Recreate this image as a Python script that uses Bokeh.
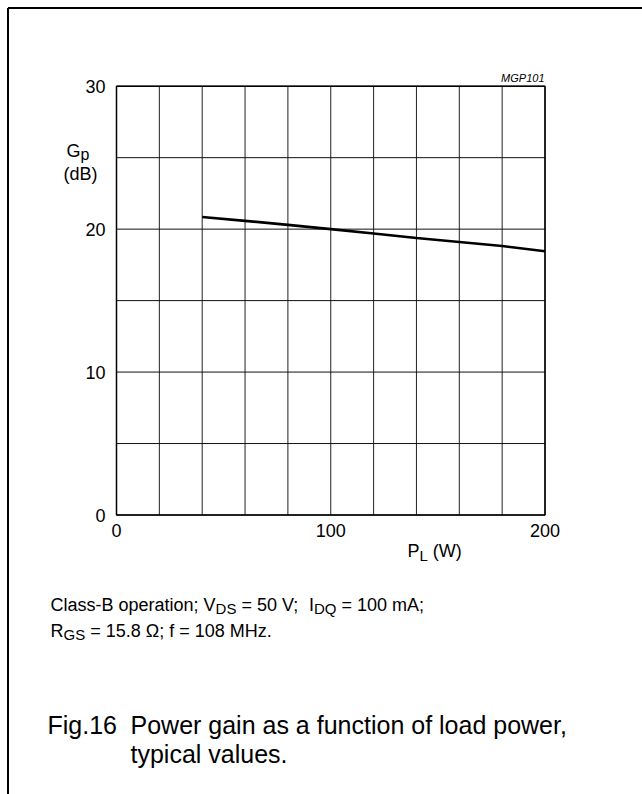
from bokeh.plotting import figure
from bokeh.models import Range1d, Label
from bokeh.embed import file_html
from bokeh.resources import INLINE

# ---- data ----
pl_w = [40, 60, 80, 100, 120, 140, 160, 180, 200]
gp_db = [20.85, 20.58, 20.3, 20.0, 19.7, 19.38, 19.1, 18.82, 18.45]
x_ticks = [0, 100, 200]
x_tick_labels = ["0", "100", "200"]
y_ticks = [0, 10, 20, 30]
y_tick_labels = ["0", "10", "20", "30"]
x_grid = [0, 20, 40, 60, 80, 100, 120, 140, 160, 180, 200]
y_grid = [0, 5, 10, 15, 20, 25, 30]

FONT = "Liberation Sans"

# ---- layout (canvas pixels) ----
FIG_W, FIG_H = 642, 794
CL, CR, CT, CB = 116.0, 544.5, 85.7, 514.5   # chart frame in pixels
XMIN, XMAX = x_grid[0], x_grid[-1]
YMIN, YMAX = y_grid[0], y_grid[-1]
KX = (CR - CL) / (XMAX - XMIN)
KY = (CB - CT) / (YMAX - YMIN)

p = figure(width=FIG_W, height=FIG_H,
           x_range=Range1d(XMIN - CL / KX, XMIN + (FIG_W - CL) / KX),
           y_range=Range1d(YMIN - (FIG_H - CB) / KY, YMIN + CB / KY),
           output_backend="svg", toolbar_location=None,
           x_axis_location=None, y_axis_location=None,
           min_border=0)
p.background_fill_color = "white"
p.border_fill_color = "white"
p.outline_line_color = None
p.grid.visible = False


def dx(px):
    return XMIN + (px - CL) / KX


def dy(py):
    return YMIN + (CB - py) / KY


# grid
p.segment(x0=x_grid, y0=[YMIN] * len(x_grid), x1=x_grid, y1=[YMAX] * len(x_grid),
          line_color="#222222", line_width=1)
p.segment(x0=[XMIN] * len(y_grid), y0=y_grid, x1=[XMAX] * len(y_grid), y1=y_grid,
          line_color="#111111", line_width=1)
# frame
p.quad(left=[XMIN], right=[XMAX], bottom=[YMIN], top=[YMAX], fill_color=None,
       line_color="black", line_width=1.5)

# curve
p.line(pl_w, gp_db, line_color="black", line_width=2.6)

# tick labels
p.text(x=x_ticks, y=[dy(CB + 9)] * len(x_ticks), text=x_tick_labels,
       text_font={"value": FONT}, text_font_size="18px", text_align="center",
       text_baseline="top", text_color="black")
p.text(x=[dx(CL - 11)] * len(y_ticks), y=y_ticks, text=y_tick_labels,
       text_font={"value": FONT}, text_font_size="18px", text_align="right",
       text_baseline="middle", text_color="black")

# page border (left and top edges)
p.segment(x0=[dx(7.5), dx(7.5)], y0=[dy(7.5), dy(7.5)], x1=[dx(7.5), dx(FIG_W + 5)],
          y1=[dy(FIG_H + 5), dy(7.5)], line_color="black", line_width=2)

W = {' ': 278, '(': 333, ')': 333, ',': 278, '-': 333, '.': 278, ';': 278, '=': 584,
     'A': 667, 'B': 667, 'C': 722, 'D': 722, 'F': 611, 'G': 778, 'H': 722, 'I': 278,
     'L': 556, 'M': 833, 'P': 667, 'Q': 778, 'R': 722, 'S': 667, 'V': 667, 'W': 944,
     'a': 556, 'b': 556, 'c': 500, 'd': 556, 'e': 556, 'f': 278, 'g': 556, 'h': 556,
     'i': 222, 'l': 222, 'm': 833, 'n': 556, 'o': 556, 'p': 556, 'r': 333, 's': 500,
     't': 278, 'u': 556, 'v': 500, 'w': 722, 'y': 500, 'z': 500, '\u03a9': 768}


def tw(s, size):
    return sum(W.get(c, 556) for c in s) / 1000.0 * size


def rich(parts, x_px, base_py, size, sub_size=None, sub_drop=4):
    sub_size = sub_size or round(size * 0.8)
    cur = x_px
    for txt, sub in parts:
        fs = sub_size if sub else size
        core = txt.strip(' ')
        lead = len(txt) - len(txt.lstrip(' '))
        trail = len(txt) - len(txt.rstrip(' '))
        cur += lead * 0.278 * fs
        if core:
            p.add_layout(Label(x=dx(cur), y=dy(base_py + (sub_drop if sub else 0)), text=core,
                               text_font=FONT, text_font_size=f"{fs}px", text_color="black",
                               text_align="left", text_baseline="alphabetic"))
        cur += tw(core, fs) + trail * 0.278 * fs


# figure code
p.add_layout(Label(x=dx(544), y=dy(77), text="MGP101", text_font=FONT, text_font_size="11px",
                   text_font_style="italic", text_align="right", text_baseline="alphabetic",
                   text_color="black"))

# axis titles
rich([("G", False), ("p", True)], 66, 150, 18, sub_size=16, sub_drop=4)
p.add_layout(Label(x=dx(80), y=dy(173), text="(dB)", text_font=FONT, text_font_size="18px",
                   text_align="center", text_baseline="alphabetic", text_color="black"))
rich([("P", False), ("L", True), (" (W)", False)], 407, 550, 18, sub_size=15, sub_drop=5)

# conditions
rich([("Class-B operation; V", False), ("DS", True), (" = 50 V;", False), ("  I", False),
      ("DQ", True), (" = 100 mA;", False)], 50, 604, 18, sub_size=15, sub_drop=4)
rich([("R", False), ("GS", True), (" = 15.8 \u03a9; f = 108 MHz.", False)], 50, 630, 18,
     sub_size=15, sub_drop=4)

# figure caption
rich([("Fig.16", False)], 47, 724, 25)
rich([("Power gain as a function of load power,", False)], 130, 724, 25)
rich([("typical values.", False)], 130, 753, 25)

open("out.html", "w").write(file_html(p, INLINE))
